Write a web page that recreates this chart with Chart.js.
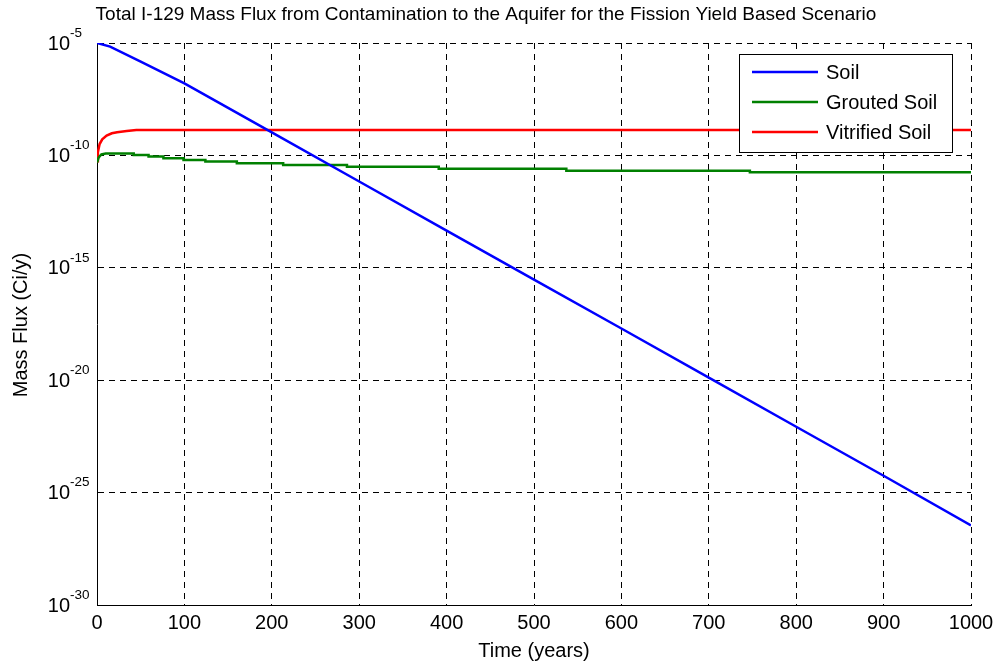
<!DOCTYPE html>
<html>
<head>
<meta charset="utf-8">
<script src="https://cdn.jsdelivr.net/npm/chart.js@4.4.1/dist/chart.umd.min.js"></script>
<style>
  html, body { margin: 0; padding: 0; background: #fff; }
  #wrap { width: 998px; height: 664px; position: relative; }
</style>
</head>
<body>
<div id="wrap"><canvas id="chart"></canvas></div>
<script>
// values (time in years, flux in Ci/y)
const soilTimes = [0, 15, 50, 100, 200, 300, 400, 500, 600, 700, 800, 900, 1000];
const soilFlux = [1e-5, 6.9e-6, 1.5e-6, 1.6e-7, 1.05e-9, 6.9e-12, 4.5e-14, 3.0e-16, 2.0e-18, 1.3e-20, 8.5e-23, 5.6e-25, 3.5e-27];

const groutTimes = [0, 2, 5, 10, 15, 42, 42, 59, 59, 76, 76, 99, 99, 124, 124, 160, 160, 213, 213, 286, 286, 391, 391, 537, 537, 747, 747, 1000];
const groutFlux = [4.8e-11, 8.2e-11, 1.1e-10, 1.2e-10, 1.22e-10, 1.22e-10, 1.05e-10, 1.05e-10, 8.9e-11, 8.9e-11, 7.5e-11, 7.5e-11, 6.3e-11, 6.3e-11,
  5.3e-11, 5.3e-11, 4.5e-11, 4.5e-11, 3.75e-11, 3.75e-11, 3.15e-11, 3.15e-11, 2.55e-11, 2.55e-11, 2.1e-11, 2.1e-11, 1.8e-11, 1.8e-11];

const vitTimes = [0, 1, 3, 6, 11, 17, 23, 34, 45, 1000];
const vitFlux = [5.5e-11, 1.4e-10, 3.2e-10, 5.2e-10, 7.6e-10, 9.6e-10, 1.08e-9, 1.22e-9, 1.35e-9, 1.35e-9];

const seriesNames = ["Soil", "Grouted Soil", "Vitrified Soil"];
const seriesColors = ["#0000ff", "#008000", "#ff0000"];

const xTicks = [0, 100, 200, 300, 400, 500, 600, 700, 800, 900, 1000];
const yExponents = [-30, -25, -20, -15, -10, -5];

const FONT = "'Liberation Sans', Arial, Helvetica, sans-serif";

const toPoints = (ts, vs) => ts.map((t, i) => ({ x: t, y: vs[i] }));

// titles, tick labels with superscripts and the legend box
const decorations = {
  id: "decorations",
  afterDraw(chart) {
    const ctx = chart.ctx;
    const xs = chart.scales.x;
    const ys = chart.scales.y;
    const area = chart.chartArea;
    ctx.save();
    ctx.fillStyle = "#000";

    // title
    ctx.font = "19px " + FONT;
    ctx.textAlign = "center";
    ctx.textBaseline = "middle";
    ctx.fillText("Total I-129 Mass Flux from Contamination to the Aquifer for the Fission Yield Based Scenario", 486, 15);

    // x tick labels
    ctx.font = "20px " + FONT;
    ctx.textBaseline = "top";
    xTicks.forEach(v => ctx.fillText(String(v), xs.getPixelForValue(v), 613));

    // y tick labels 10^n
    yExponents.forEach(e => {
      const y = ys.getPixelForValue(Math.pow(10, e));
      ctx.font = "20px " + FONT;
      ctx.textAlign = "right";
      ctx.textBaseline = "middle";
      ctx.fillText("10", 70, y + 1);
      ctx.font = "13.5px " + FONT;
      ctx.textAlign = "left";
      ctx.fillText(String(e), 70, y - 10);
    });

    // axis titles
    ctx.font = "20px " + FONT;
    ctx.textAlign = "center";
    ctx.textBaseline = "middle";
    ctx.fillText("Time (years)", (area.left + area.right) / 2, 651);
    ctx.translate(21, 325);
    ctx.rotate(-Math.PI / 2);
    ctx.fillText("Mass Flux (Ci/y)", 0, 0);
    ctx.setTransform(1, 0, 0, 1, 0, 0);

    // legend
    ctx.fillStyle = "#fff";
    ctx.fillRect(739, 54, 214, 99);
    ctx.strokeStyle = "#000";
    ctx.lineWidth = 1;
    ctx.strokeRect(739.5, 54.5, 213, 98);
    ctx.font = "20px " + FONT;
    ctx.textAlign = "left";
    seriesNames.forEach((name, i) => {
      const y = 72 + i * 30;
      ctx.strokeStyle = seriesColors[i];
      ctx.lineWidth = 2.5;
      ctx.beginPath();
      ctx.moveTo(752, y);
      ctx.lineTo(818, y);
      ctx.stroke();
      ctx.fillStyle = "#000";
      ctx.fillText(name, 826, y + 1);
    });
    ctx.restore();
  }
};

new Chart(document.getElementById("chart"), {
  type: "line",
  data: {
    datasets: [
      { label: seriesNames[0], data: toPoints(soilTimes, soilFlux) },
      { label: seriesNames[1], data: toPoints(groutTimes, groutFlux) },
      { label: seriesNames[2], data: toPoints(vitTimes, vitFlux) }
    ].map((ds, i) => Object.assign(ds, {
      borderColor: seriesColors[i],
      backgroundColor: seriesColors[i],
      borderWidth: 2.5,
      pointRadius: 0,
      tension: 0,
      fill: false
    }))
  },
  options: {
    responsive: true,
    maintainAspectRatio: false,
    animation: false,
    layout: { padding: { top: 43, right: 27, left: 0, bottom: 0 } },
    plugins: { legend: { display: false }, title: { display: false }, tooltip: { enabled: false } },
    scales: {
      x: {
        type: "linear",
        min: 0,
        max: 1000,
        afterBuildTicks: s => { s.ticks = xTicks.map(v => ({ value: v })); },
        afterFit: s => { s.height = 59; },
        ticks: { display: false },
        grid: { color: "#000", lineWidth: 1, drawTicks: false, tickLength: 0 },
        border: { display: true, color: "#000", width: 1, dash: [6, 5] }
      },
      y: {
        type: "logarithmic",
        min: 1e-30,
        max: 1e-5,
        afterBuildTicks: s => { s.ticks = yExponents.map(e => ({ value: Math.pow(10, e) })); },
        afterFit: s => { s.width = 97; },
        ticks: { display: false },
        grid: { color: "#000", lineWidth: 1, drawTicks: false, tickLength: 0 },
        border: { display: true, color: "#000", width: 1, dash: [6, 5] }
      }
    }
  },
  plugins: [decorations]
});
</script>
</body>
</html>
